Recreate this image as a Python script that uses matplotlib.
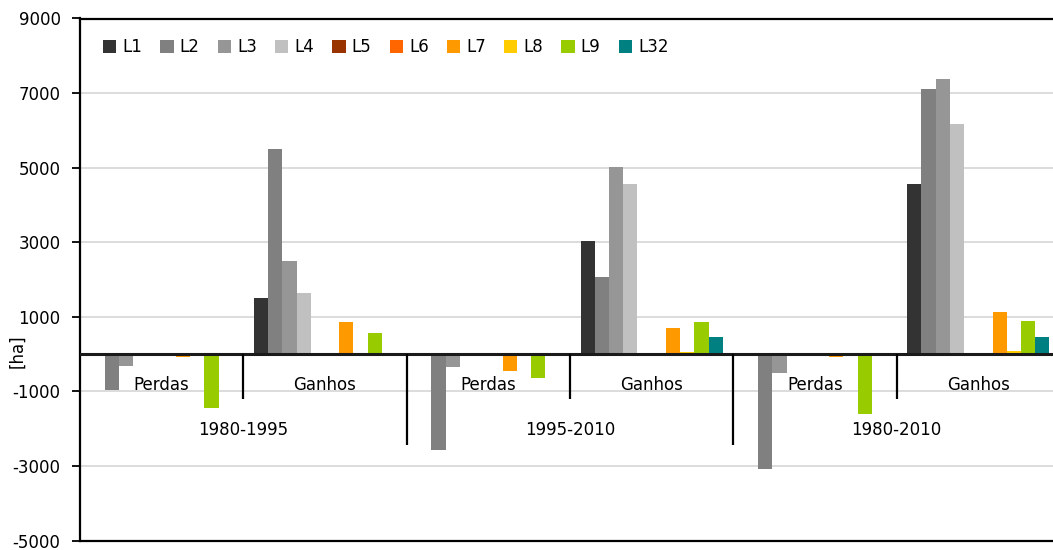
import matplotlib
matplotlib.use("Agg")
import matplotlib.pyplot as plt
import numpy as np

# Categories: losses/gains for each period
categories = ["Perdas", "Ganhos", "Perdas", "Ganhos", "Perdas", "Ganhos"]
periods = ["1980-1995", "1995-2010", "1980-2010"]

series_names = ["L1", "L2", "L3", "L4", "L5", "L6", "L7", "L8", "L9", "L32"]
L1 = [0, 1520, 0, 3030, 0, 4550]
L2 = [-970, 5500, -2560, 2060, -3070, 7100]
L3 = [-320, 2500, -350, 5020, -500, 7370]
L4 = [0, 1650, 0, 4550, 0, 6160]
L5 = [0, 0, 0, 0, 0, 0]
L6 = [0, 0, 0, 0, 0, 0]
L7 = [-80, 850, -450, 690, -80, 1120]
L8 = [0, 0, 0, 60, 0, 80]
L9 = [-1430, 560, -650, 850, -1600, 900]
L32 = [0, 0, 0, 470, 0, 470]
series_values = [L1, L2, L3, L4, L5, L6, L7, L8, L9, L32]

colors = ["#333333", "#808080", "#969696", "#C0C0C0", "#993300",
          "#FF6600", "#FF9900", "#FFCC00", "#99CC00", "#008080"]

yticks = [-5000, -3000, -1000, 1000, 3000, 5000, 7000, 9000]

FONT = "DejaVu Sans"
FS = 12

W, H = 1053, 550
fig = plt.figure(figsize=(W / 100, H / 100), dpi=100)
# plot area runs slightly past the right edge of the canvas
ax = fig.add_axes([80 / W, 9.3 / H, 980 / W, 522.2 / H])

n_cat = len(categories)
n_ser = len(series_values)
bar_w = 0.087
side_gap = (1 - n_ser * bar_w) / 2
x0 = np.arange(n_cat)

for j, (vals, col, name) in enumerate(zip(series_values, colors, series_names)):
    xs = x0 + side_gap + (j + 0.5) * bar_w
    ax.bar(xs, vals, width=bar_w, color=col, label=name, zorder=2, linewidth=0)

ax.set_xlim(0, n_cat)
ax.set_ylim(-5000, 9000)
ax.set_yticks(yticks)
ax.set_yticklabels([str(t) for t in yticks], fontsize=FS, family=FONT, color="#000000")
ax.tick_params(axis="y", direction="out", length=6, width=1.3, pad=8, color="#000000")
ax.set_xticks([])

for y in yticks[1:-1]:
    ax.axhline(y, color="#d9d9d9", lw=1.3, zorder=0)

for side in ["left", "top", "bottom"]:
    ax.spines[side].set_linewidth(1.6)
    ax.spines[side].set_color("#000000")
ax.spines["right"].set_visible(False)

# horizontal category axis at zero
ax.axhline(0, color="#1a1a1a", lw=2.2, zorder=3)

# category separators below the zero line
for xb in range(1, n_cat):
    depth = -2430 if xb % 2 == 0 else -1210
    ax.plot([xb, xb], [0, depth], color="#000000", lw=1.6, zorder=3,
            clip_on=False, solid_capstyle="butt")

for i, lab in enumerate(categories):
    ax.text(i + 0.5, -820, lab, ha="center", va="center", fontsize=FS,
            family=FONT, zorder=4)
for k, per in enumerate(periods):
    ax.text(2 * k + 1, -2030, per, ha="center", va="center", fontsize=FS,
            family=FONT, zorder=4)

fig.text(17 / W, 1 - 351 / H, "[ha]", rotation=90, ha="center", va="center",
         fontsize=FS, family=FONT)

leg = ax.legend(loc="center left", bbox_to_anchor=(103 / W, 1 - 47 / H),
                bbox_transform=fig.transFigure, ncol=n_ser, frameon=False,
                borderpad=0, borderaxespad=0, handlelength=0.8,
                handleheight=0.8, handletextpad=0.36, columnspacing=1.09,
                prop={"family": FONT, "size": FS})

fig.savefig("out.png", dpi=100)
